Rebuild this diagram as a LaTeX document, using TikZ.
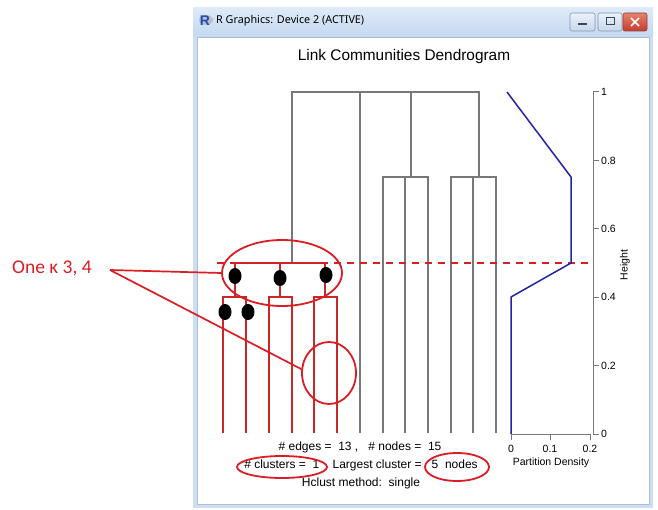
\documentclass[tikz,border=0pt]{standalone}
\usepackage{fontspec}
\setmainfont{Liberation Sans}
\newfontfamily\calibfont{Carlito}
\newfontfamily\uifont{Noto Sans}
\usetikzlibrary{shapes.geometric}
\definecolor{dgray}{RGB}{120,120,120}
\definecolor{dred}{RGB}{200,40,40}
\definecolor{annred}{RGB}{218,30,35}
\definecolor{pblue}{RGB}{35,35,165}
\definecolor{framebl}{RGB}{205,222,242}
\definecolor{tbtop}{RGB}{222,234,248}
\definecolor{tbbot}{RGB}{196,216,240}
\definecolor{innerln}{RGB}{170,190,215}
\definecolor{riconbg}{RGB}{190,190,200}
\definecolor{riconfg}{RGB}{30,80,180}
\definecolor{btnborder}{RGB}{130,150,180}
\definecolor{btntop}{RGB}{235,242,250}
\definecolor{btnbot}{RGB}{200,215,235}
\definecolor{btnglyph}{RGB}{60,70,90}
\definecolor{closeborder}{RGB}{150,60,50}
\definecolor{closetop}{RGB}{230,130,110}
\definecolor{closebot}{RGB}{195,60,45}
\begin{document}
\begin{tikzpicture}[x=1pt,y=-1pt,
  gline/.style={draw=dgray, line width=1.3pt},
  rline/.style={draw=dred, line width=1.2pt},
  ann/.style={draw=annred, line width=1.7pt},
  annell/.style={ellipse, draw=annred, line width=1.8pt, inner sep=0pt},
  axisln/.style={draw=dgray, line width=1pt},
  txt/.style={inner sep=0pt, font=\fontsize{12}{14}\selectfont},
  ticklbl/.style={inner sep=0pt, font=\fontsize{10.5}{12}\selectfont},
  winbtn/.style={draw=btnborder, rounded corners=2pt, line width=0.6pt}
]
\useasboundingbox (0,0) rectangle (658,510);
\fill[white] (0,0) rectangle (658,510);
% window frame
\fill[framebl] (193,8) rectangle (653,508);
\shade[top color=tbtop, bottom color=tbbot] (193,8) rectangle (653,37);
\fill[white] (197,37) rectangle (649,504);
\draw[innerln, line width=0.5pt] (197,37) rectangle (649,504);
% title bar content
\fill[riconbg] (206,20) ellipse (7 and 5);
\node[inner sep=0pt, text=riconfg, font=\bfseries\fontsize{14}{14}\selectfont] (ricon) at (205,21) {R};
\node[anchor=west, inner sep=0pt, font=\uifont\fontsize{10.8}{12}\selectfont] (wtitle) at (216,21) {R Graphics: Device 2 (ACTIVE)};
\shade[winbtn, top color=btntop, bottom color=btnbot] (570,13) rectangle (595,31);
\fill[btnglyph] (578,23) rectangle (587,25.5);
\shade[winbtn, top color=btntop, bottom color=btnbot] (598,13) rectangle (622,31);
\draw[btnglyph, line width=1pt] (606,18) rectangle (614,25);
\shade[winbtn, draw=closeborder, top color=closetop, bottom color=closebot] (623,13) rectangle (647,31);
\draw[white, line width=1.6pt] (631,18) -- (639,26) (639,18) -- (631,26);
% plot title
\node[inner sep=0pt, font=\fontsize{15.4}{17}\selectfont] (ptitle) at (404,57) {Link Communities Dendrogram};
% gray dendrogram
\draw[gline] (292,263) -- (292,92) -- (479,92) -- (479,177);
\draw[gline] (360,92) -- (360,433);
\draw[gline] (411,92) -- (411,177);
\draw[gline] (383,433) -- (383,177) -- (428,177) -- (428,433);
\draw[gline] (405,177) -- (405,433);
\draw[gline] (451,433) -- (451,177) -- (496,177) -- (496,433);
\draw[gline] (473,177) -- (473,433);
% red cluster
\draw[rline] (235,263) -- (325,263);
\draw[rline] (235,263) -- (235,297) (280,263) -- (280,297) (325,263) -- (325,297);
\draw[rline] (223,433) -- (223,297) -- (246,297) -- (246,433);
\draw[rline] (269,433) -- (269,297) -- (292,297) -- (292,433);
\draw[rline] (314,433) -- (314,297) -- (337,297) -- (337,433);
% dashed cut line
\draw[draw=annred, line width=1.5pt, dash pattern=on 7pt off 6pt] (217,263) -- (593,263);
% dots
\fill[black] (235,276) ellipse (6.5 and 8);
\fill[black] (280,278) ellipse (6.5 and 8);
\fill[black] (326,275) ellipse (6.5 and 8);
\fill[black] (225,312) ellipse (6.5 and 8);
\fill[black] (248,312) ellipse (6.5 and 8);
% partition density
\draw[pblue, line width=1.5pt, line join=round] (507,92) -- (571,177) -- (571,263) -- (511,297) -- (511,434);
\draw[axisln] (511,434) -- (590,434);
\foreach \xx/\lab in {511/0, 550/0.1, 590/0.2}{
  \draw[axisln] (\xx,434) -- (\xx,440);
  \node[ticklbl] at (\xx,449) {\lab};
}
\node[ticklbl] (pdlabel) at (551,463) {Partition Density};
\draw[axisln] (593,92) -- (593,434);
\foreach \yy/\lab in {434/0, 365.6/0.2, 297.2/0.4, 228.8/0.6, 160.4/0.8, 92/1}{
  \draw[axisln] (593,\yy) -- (599,\yy);
  \node[ticklbl, anchor=west] at (601,\yy) {\lab};
}
\node[ticklbl, rotate=90] (hlabel) at (625,265) {Height};
% bottom text
\node[txt] (l1) at (360,447) {\# edges =\ \ 13 ,\ \ \ \# nodes =\ \ 15};
\node[txt] (l2) at (361,465) {\# clusters =\ \ 1\ \ \ \ Largest cluster =\ \ \ 5\ \ nodes};
\node[txt] (l3) at (361,483) {Hclust method:\ \ single};
% annotations
\node[annell, minimum width=120pt, minimum height=66pt] (bigell) at (282,273) {};
\node[annell, minimum width=54pt, minimum height=62pt] (smallc) at (329,373) {};
\node[annell, minimum width=90pt, minimum height=22pt] (clell) at (282,467) {};
\node[annell, minimum width=64pt, minimum height=28pt] (ndell) at (457,467) {};
\node[inner sep=0pt, anchor=west, text=annred, font=\calibfont\fontsize{19.5}{20}\selectfont] (onek) at (12,268) {One κ 3, 4};
\coordinate (src) at (110,270);
\draw[ann] (src) -- (bigell.west);
\draw[ann] (src) -- (smallc.172);
\end{tikzpicture}
\end{document}
